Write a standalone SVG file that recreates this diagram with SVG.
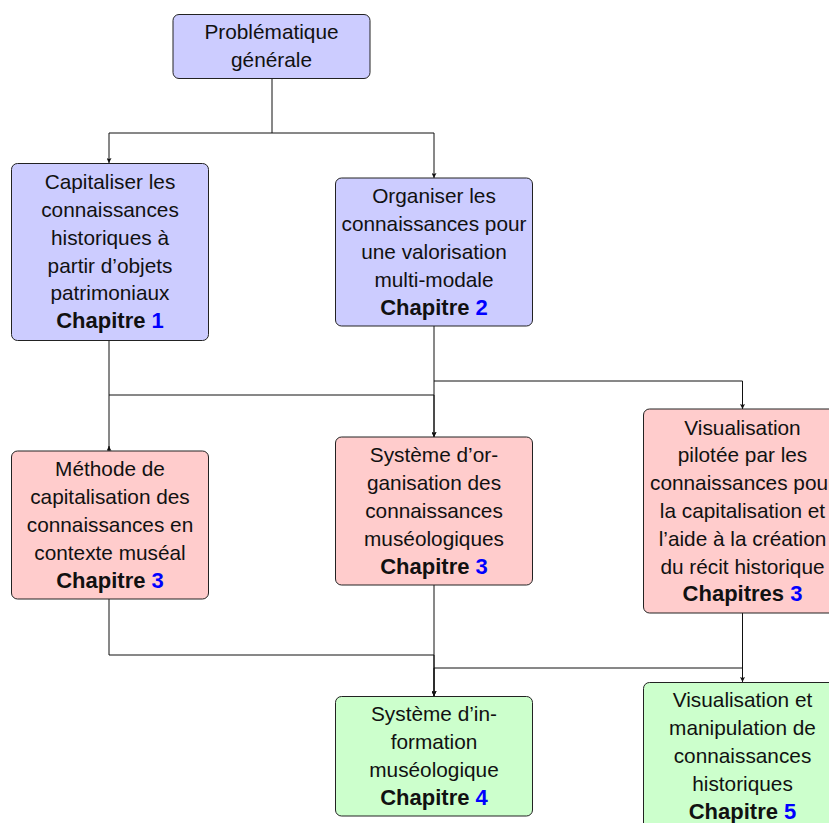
<svg xmlns="http://www.w3.org/2000/svg" width="829" height="823" viewBox="0 0 829 823">
<style>
  .box { stroke: #222; stroke-width: 1; }
  .blue { fill: #ccccff; }
  .red { fill: #ffcccc; }
  .green { fill: #ccffcc; }
  text { font-family: "Liberation Sans", Arial, sans-serif; font-size: 20.8px; fill: #111; text-anchor: middle; }
  text.ch { font-size: 22px; font-weight: bold; }
  .n { fill: #0000ff; }
  .c { fill: none; stroke: #111; stroke-width: 1; }
</style>
<defs>
  <marker id="arr" viewBox="0 0 10 10" refX="10" refY="5" markerWidth="6" markerHeight="5" markerUnits="userSpaceOnUse" orient="auto">
    <path d="M0,0 L10,5 L0,10 L2,5 z" fill="#111"/>
  </marker>
</defs>
<rect width="829" height="823" fill="#ffffff"/>
<g id="connectors">
  <path class="c" d="M272,78 V133 H109 V163" marker-end="url(#arr)"/>
  <path class="c" d="M272,133 H434 V178" marker-end="url(#arr)"/>
  <path class="c" d="M109,340 V395 H434 V437" marker-end="url(#arr)"/>
  <path class="c" d="M109,395 V451"/>
  <path class="c" d="M109,452 V446" marker-end="url(#arr)"/>
  <path class="c" d="M434,326 V437" marker-end="url(#arr)"/>
  <path class="c" d="M434,381 H742.5 V409" marker-end="url(#arr)"/>
  <path class="c" d="M109,599 V655 H434 V696" marker-end="url(#arr)"/>
  <path class="c" d="M434,585 V696" marker-end="url(#arr)"/>
  <path class="c" d="M742.5,613 V668 H434 V696" marker-end="url(#arr)"/>
  <path class="c" d="M742.5,668 V682" marker-end="url(#arr)"/>
</g>
<g id="n-problematique">
  <rect class="box blue" x="173" y="14.5" width="197" height="64" rx="6"/>
  <text x="271.5" y="39">Problématique</text>
  <text x="271.5" y="67">générale</text>
</g>
<g id="n-capitaliser">
  <rect class="box blue" x="11.5" y="163.5" width="197" height="177" rx="6"/>
  <text x="110" y="189">Capitaliser les</text>
  <text x="110" y="217">connaissances</text>
  <text x="110" y="245">historiques à</text>
  <text x="110" y="273">partir d’objets</text>
  <text x="110" y="300">patrimoniaux</text>
  <text class="ch" x="110" y="328">Chapitre <tspan class="n">1</tspan></text>
</g>
<g id="n-organiser">
  <rect class="box blue" x="335.5" y="178" width="197" height="148" rx="6"/>
  <text x="434" y="203">Organiser les</text>
  <text x="434" y="231">connaissances pour</text>
  <text x="434" y="259">une valorisation</text>
  <text x="434" y="287">multi-modale</text>
  <text class="ch" x="434" y="315">Chapitre <tspan class="n">2</tspan></text>
</g>
<g id="n-methode">
  <rect class="box red" x="11.5" y="451" width="197" height="148" rx="6"/>
  <text x="110" y="476">Méthode de</text>
  <text x="110" y="504">capitalisation des</text>
  <text x="110" y="532">connaissances en</text>
  <text x="110" y="560">contexte muséal</text>
  <text class="ch" x="110" y="588">Chapitre <tspan class="n">3</tspan></text>
</g>
<g id="n-systeme-org">
  <rect class="box red" x="335.5" y="437" width="197" height="148" rx="6"/>
  <text x="434" y="462">Système d’or-</text>
  <text x="434" y="490">ganisation des</text>
  <text x="434" y="518">connaissances</text>
  <text x="434" y="546">muséologiques</text>
  <text class="ch" x="434" y="574">Chapitre <tspan class="n">3</tspan></text>
</g>
<g id="n-visualisation-pilotee">
  <rect class="box red" x="643.5" y="409" width="198" height="204" rx="6"/>
  <text x="742.5" y="435">Visualisation</text>
  <text x="742.5" y="462">pilotée par les</text>
  <text x="742.5" y="490">connaissances pour</text>
  <text x="742.5" y="518">la capitalisation et</text>
  <text x="742.5" y="546">l’aide à la création</text>
  <text x="742.5" y="574">du récit historique</text>
  <text class="ch" x="742.5" y="601">Chapitres <tspan class="n">3</tspan></text>
</g>
<g id="n-systeme-info">
  <rect class="box green" x="335.5" y="696.5" width="197" height="119.5" rx="6"/>
  <text x="434" y="721">Système d’in-</text>
  <text x="434" y="749">formation</text>
  <text x="434" y="777">muséologique</text>
  <text class="ch" x="434" y="805">Chapitre <tspan class="n">4</tspan></text>
</g>
<g id="n-visualisation-manip">
  <rect class="box green" x="643.5" y="682.5" width="198" height="148" rx="6"/>
  <text x="742.5" y="707">Visualisation et</text>
  <text x="742.5" y="735">manipulation de</text>
  <text x="742.5" y="763">connaissances</text>
  <text x="742.5" y="791">historiques</text>
  <text class="ch" x="742.5" y="819">Chapitre <tspan class="n">5</tspan></text>
</g>
</svg>
